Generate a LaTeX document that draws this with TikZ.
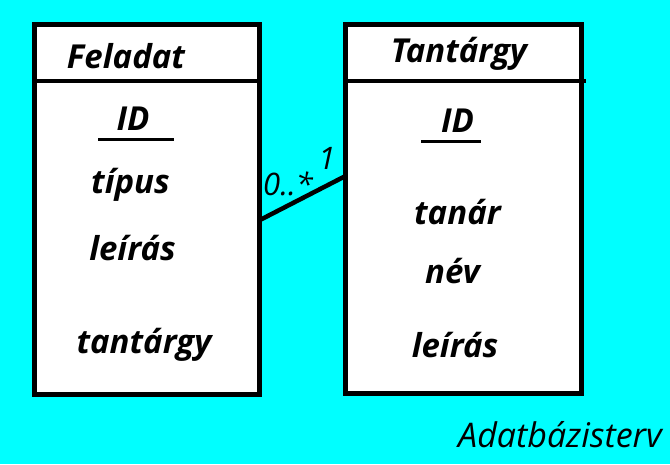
\documentclass[tikz,border=0pt]{standalone}
\usepackage{fontspec}
\setmainfont{Open Sans}
\definecolor{bgcyan}{HTML}{00FFFF}
\begin{document}
\begin{tikzpicture}[x=1pt,y=-1pt,
  box/.style={draw=black, fill=white, line width=5pt, inner sep=0pt, outer sep=0pt, rectangle},
  divider/.style={line width=4.5pt},
  uline/.style={line width=3pt},
  attr/.style={anchor=base, inner sep=0pt, font=\fontsize{33}{38}\selectfont\bfseries\itshape},
  mult/.style={inner sep=0pt, font=\fontsize{31}{36}\selectfont\itshape},
  conn/.style={line width=4.5pt}]
\fill[bgcyan] (0,0) rectangle (670,464);
\useasboundingbox (0,0) rectangle (670,464);
% boxes
\node[box, minimum width=225pt, minimum height=369.5pt] (fbox) at (146.5,209.25) {};
\node[box, minimum width=235.5pt, minimum height=369.5pt] (tbox) at (463.25,208.75) {};
\coordinate (fdivend) at (262,81);
\coordinate (tdivend) at (586,81);
\draw[divider] (fbox.west |- fdivend) -- (fdivend);
\draw[divider] (tbox.west |- tdivend) -- (tdivend);
% Feladat
\node[attr] (fname) at (126,68) {Feladat};
\node[attr] (fid) at (133,130) {ID};
\coordinate (ful1) at (98,139.5);
\coordinate (ful2) at (174,139.5);
\draw[uline] (ful1) -- (ful2);
\node[attr] (ftip) at (130.5,193) {típus};
\node[attr] (fleir) at (132.5,260) {leírás};
\node[attr] (ftant) at (144,353) {tantárgy};
% Tantargy
\node[attr] (tname) at (459,62) {Tantárgy};
\node[attr] (tid) at (457.5,132) {ID};
\coordinate (tul1) at (421,141);
\coordinate (tul2) at (481,141);
\draw[uline] (tul1) -- (tul2);
\node[attr] (ttan) at (457.5,224) {tanár};
\node[attr] (tnev) at (452.5,283) {név};
\node[attr] (tleir) at (455,357) {leírás};
% connector
\coordinate (c1) at (fbox.east |- 0,220.5);
\coordinate (c2) at (tbox.west |- 0,176);
\draw[conn] (c1) -- (c2);
\node[mult, anchor=base west] (m1) at (263,195) {0..*};
\node[mult, anchor=base] (m2) at (327,169) {1};
% caption
\node[anchor=base, inner sep=0pt, font=\fontsize{34}{40}\selectfont\itshape] (cap) at (560,447) {Adatbázisterv};
\end{tikzpicture}
\end{document}
